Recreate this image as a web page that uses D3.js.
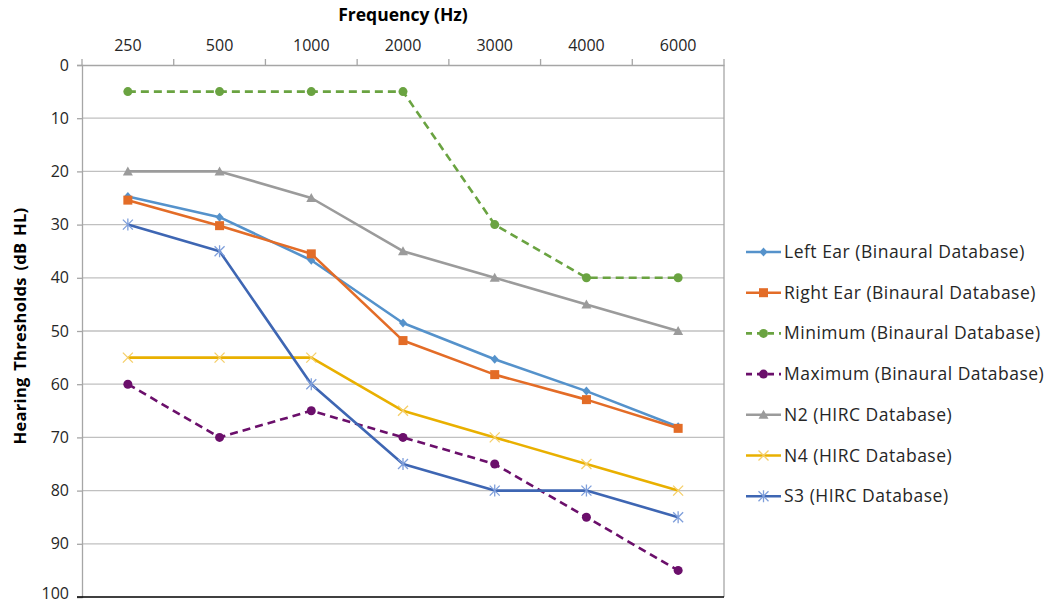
<!DOCTYPE html>
<html>
<head>
<meta charset="utf-8">
<script src="https://cdn.jsdelivr.net/npm/d3@7"></script>
<style>
  html, body { margin: 0; padding: 0; background: #fff; }
  svg { display: block; font-family: "Open Sans", "Noto Sans", sans-serif; }
</style>
</head>
<body>
<svg id="chart" width="1050" height="606"></svg>
<script>
// Audiogram: hearing thresholds per frequency for several ears/profiles
const frequencies = ["250", "500", "1000", "2000", "3000", "4000", "6000"];
const yTicks = [0, 10, 20, 30, 40, 50, 60, 70, 80, 90, 100];

const leftEar  = [24.7, 28.6, 36.7, 48.5, 55.3, 61.3, 68.0];
const rightEar = [25.4, 30.2, 35.5, 51.8, 58.2, 62.9, 68.3];
const minimum  = [5, 5, 5, 5, 30, 40, 40];
const maximum  = [60, 70, 65, 70, 75, 85, 95];
const n2       = [20, 20, 25, 35, 40, 45, 50];
const n4       = [55, 55, 55, 65, 70, 75, 80];
const s3       = [30, 35, 60, 75, 80, 80, 85];

const series = [
  { name: "Left Ear (Binaural Database)",  values: leftEar,  color: "#5592cb", mcolor: "#5592cb", marker: "diamond", dash: null },
  { name: "Right Ear (Binaural Database)", values: rightEar, color: "#e36c27", mcolor: "#e36c27", marker: "square",  dash: null },
  { name: "Minimum (Binaural Database)",   values: minimum,  color: "#6aa341", mcolor: "#6aa341", marker: "circle",  dash: "8,5" },
  { name: "Maximum (Binaural Database)",   values: maximum,  color: "#6b0f6b", mcolor: "#6b0f6b", marker: "circle",  dash: "8,5" },
  { name: "N2 (HIRC Database)",            values: n2,       color: "#9b9b9b", mcolor: "#9b9b9b", marker: "triangle", dash: null },
  { name: "N4 (HIRC Database)",            values: n4,       color: "#e9b000", mcolor: "#f5cf6a", marker: "x",       dash: null },
  { name: "S3 (HIRC Database)",            values: s3,       color: "#3e66b3", mcolor: "#7f9fdb", marker: "star",    dash: null }
];

const svg = d3.select("#chart");
const plot = { left: 82, right: 724, top: 65, bottom: 597 };

const x = d3.scaleBand().domain(frequencies).range([plot.left, plot.right]).paddingInner(0).paddingOuter(0);
const y = d3.scaleLinear().domain([0, 100]).range([plot.top, plot.bottom]);
const cx = f => x(f) + x.bandwidth() / 2;

// horizontal gridlines
svg.append("g").selectAll("line").data(yTicks.filter(t => t > 0 && t < 100)).join("line")
  .attr("x1", plot.left).attr("x2", plot.right)
  .attr("y1", d => y(d)).attr("y2", d => y(d))
  .attr("stroke", "#c0c0c0").attr("stroke-width", 1.3);

// right border
svg.append("line")
  .attr("x1", plot.right).attr("x2", plot.right).attr("y1", plot.top).attr("y2", plot.bottom)
  .attr("stroke", "#a6a6a6").attr("stroke-width", 1.3);

// top category axis
const xAxis = d3.axisTop(x).tickSize(0).tickPadding(14);
const gx = svg.append("g").attr("transform", `translate(0,${plot.top})`).call(xAxis);
gx.select(".domain").attr("stroke", "#a6a6a6").attr("stroke-width", 1.3);
gx.selectAll("text").attr("font-size", 16).attr("fill", "#262626")
  .attr("font-family", "'Open Sans', sans-serif");
// tick marks at band boundaries
const bounds = frequencies.map(f => x(f)).concat([plot.right]);
svg.append("g").selectAll("line").data(bounds).join("line")
  .attr("x1", d => d).attr("x2", d => d)
  .attr("y1", plot.top - 6).attr("y2", plot.top)
  .attr("stroke", "#a6a6a6").attr("stroke-width", 1.3);

// left value axis
const yAxis = d3.axisLeft(y).tickValues(yTicks).tickSize(5).tickPadding(8);
const gy = svg.append("g").attr("transform", `translate(${plot.left},0)`).call(yAxis);
gy.select(".domain").attr("stroke", "#a6a6a6").attr("stroke-width", 1.3);
gy.selectAll(".tick line").attr("stroke", "#a6a6a6").attr("stroke-width", 1.3);
gy.selectAll("text").attr("font-size", 16).attr("fill", "#262626")
  .attr("font-family", "'Open Sans', sans-serif")
  .attr("dy", d => d === 100 ? "0.1em" : "0.32em");

// bottom edge
svg.append("line")
  .attr("x1", plot.left - 5).attr("x2", plot.right).attr("y1", plot.bottom).attr("y2", plot.bottom)
  .attr("stroke", "#000").attr("stroke-width", 1.5);

// axis titles
svg.append("text").attr("x", 403).attr("y", 21).attr("text-anchor", "middle")
  .attr("font-size", 17.5).attr("font-weight", "bold").attr("fill", "#000")
  .text("Frequency (Hz)");
svg.append("text").attr("transform", "translate(26,326) rotate(-90)").attr("text-anchor", "middle")
  .attr("font-size", 16.5).attr("font-weight", "bold").attr("fill", "#000")
  .attr("letter-spacing", 0.3).attr("word-spacing", 2)
  .text("Hearing Thresholds (dB HL)");

// marker drawing
function drawMarker(g, type, color, px, py) {
  switch (type) {
    case "diamond":
      g.append("path").attr("d", `M${px},${py - 4.5}L${px + 4},${py}L${px},${py + 4.5}L${px - 4},${py}Z`)
        .attr("fill", color); break;
    case "square":
      g.append("rect").attr("x", px - 4.5).attr("y", py - 4.5).attr("width", 9).attr("height", 9)
        .attr("fill", color); break;
    case "circle":
      g.append("circle").attr("cx", px).attr("cy", py).attr("r", 4.5).attr("fill", color); break;
    case "triangle":
      g.append("path").attr("d", `M${px},${py - 5}L${px + 5},${py + 4}L${px - 5},${py + 4}Z`)
        .attr("fill", color); break;
    case "x":
      g.append("path").attr("d", `M${px - 5},${py - 5}L${px + 5},${py + 5}M${px - 5},${py + 5}L${px + 5},${py - 5}`)
        .attr("stroke", color).attr("stroke-width", 1.3).attr("fill", "none"); break;
    case "star":
      g.append("path").attr("d", `M${px - 5},${py - 5}L${px + 5},${py + 5}M${px - 5},${py + 5}L${px + 5},${py - 5}M${px},${py - 6}L${px},${py + 6}`)
        .attr("stroke", color).attr("stroke-width", 1.3).attr("fill", "none"); break;
  }
}

const line = d3.line().x((d, i) => cx(frequencies[i])).y(d => y(d));

// series lines and markers
series.forEach(s => {
  const g = svg.append("g");
  g.append("path").datum(s.values).attr("d", line)
    .attr("fill", "none").attr("stroke", s.color).attr("stroke-width", 2.6)
    .attr("stroke-dasharray", s.dash).attr("stroke-linejoin", "round");
  s.values.forEach((v, i) => drawMarker(g, s.marker, s.mcolor, cx(frequencies[i]), y(v)));
});

// legend
const legend = svg.append("g");
series.forEach((s, i) => {
  const ly = 252 + i * 40.7;
  const g = legend.append("g");
  g.append("line").attr("x1", 746).attr("x2", 781).attr("y1", ly).attr("y2", ly)
    .attr("stroke", s.color).attr("stroke-width", 2.6)
    .attr("stroke-dasharray", s.dash ? "6,5" : null);
  drawMarker(g, s.marker, s.mcolor, 763.5, ly);
  g.append("text").attr("x", 784).attr("y", ly + 6).attr("font-size", 17.5)
    .attr("letter-spacing", 0.5).attr("fill", "#262626").text(s.name);
});
</script>
</body>
</html>
